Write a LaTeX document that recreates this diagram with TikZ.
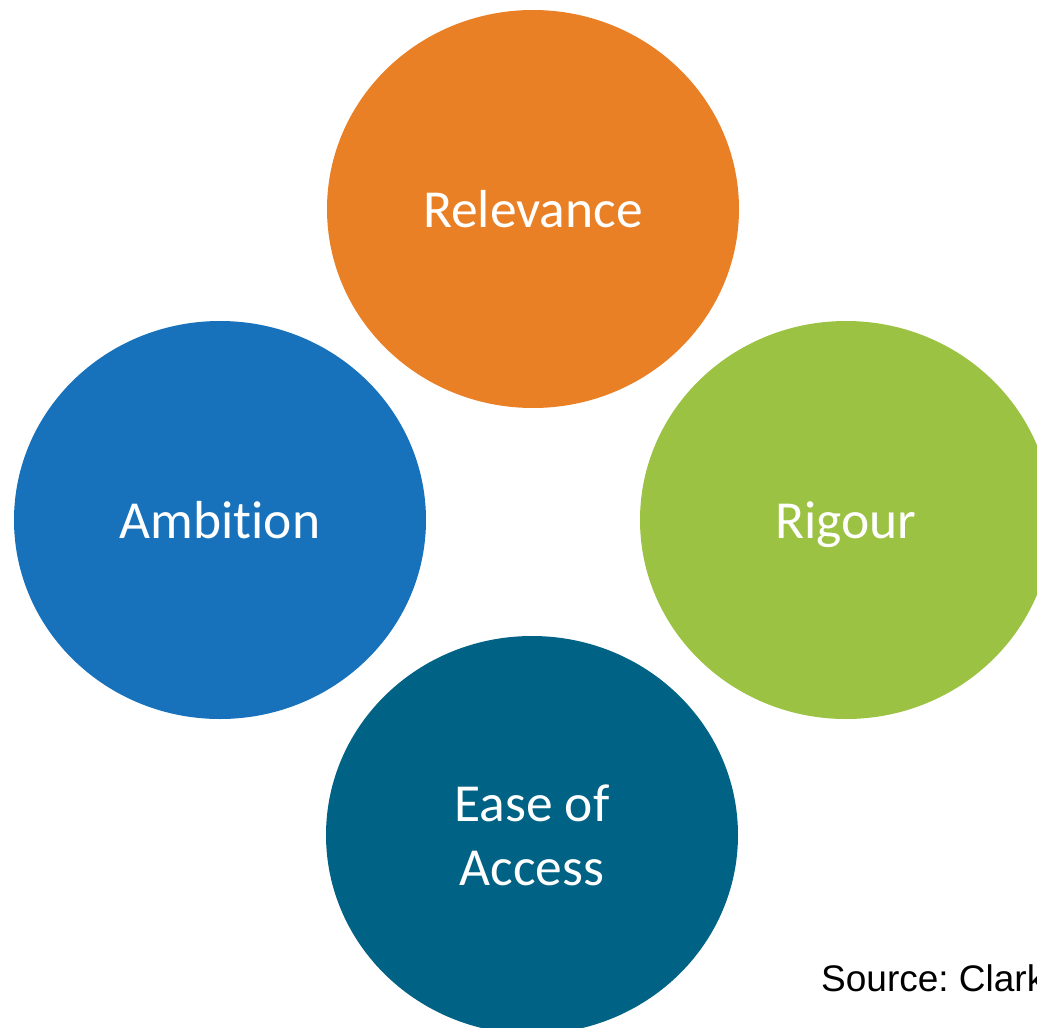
\documentclass[tikz,border=0pt]{standalone}
\usepackage{fontspec}
\setmainfont[Ligatures={NoCommon}]{Carlito}
\newfontfamily\srcfont{Liberation Sans}
\usetikzlibrary{shapes.geometric}
\definecolor{cOrange}{HTML}{E98026}
\definecolor{cBlue}{HTML}{1772BB}
\definecolor{cGreen}{HTML}{9BC242}
\definecolor{cTeal}{HTML}{006385}
\tikzset{
  bubble/.style={ellipse, minimum width=412pt, minimum height=398pt, inner sep=0pt,
    text=white, font=\fontsize{53.5}{64}\selectfont, align=center, draw=none,
    text height=36pt, text depth=0pt},
}
\begin{document}
\frenchspacing
\begin{tikzpicture}[x=1pt,y=-1pt]
\useasboundingbox (0,0) rectangle (1037,1028);
\clip (0,0) rectangle (1037,1028);
\node[bubble, fill=cOrange] (rel) at (533,209) {Relevance};
\node[bubble, fill=cBlue] (amb) at (220,520) {Ambition};
\node[bubble, fill=cGreen] (rig) at (846,520) {Rigour};
\node[bubble, fill=cTeal, text height=, text depth=] (ease) at (532,835) {Ease of\\Access};
\node[anchor=base west, inner sep=0pt, font=\srcfont\fontsize{37}{44}\selectfont] (src) at (821,991) {Source: Clark};
\end{tikzpicture}
\end{document}
